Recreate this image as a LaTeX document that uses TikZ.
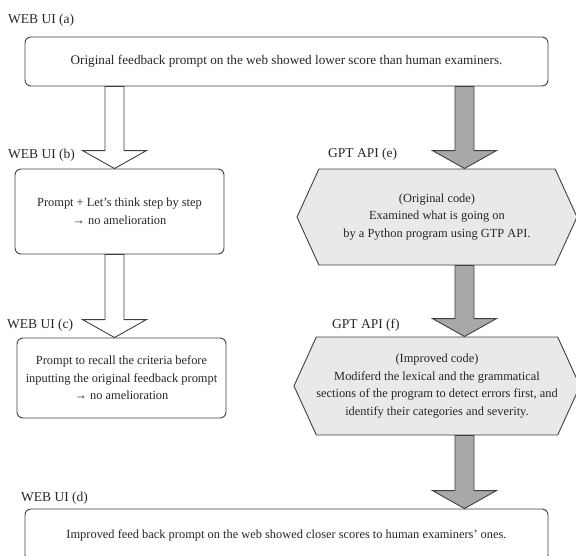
\documentclass[tikz,border=0pt]{standalone}
\usepackage{fontspec}
\setmainfont{Liberation Serif}
\usepackage{tikz}
\usetikzlibrary{positioning,calc,shapes.symbols}

\definecolor{edgegray}{HTML}{404040}
\definecolor{hexgray}{HTML}{E9E9E9}
\definecolor{arrowgray}{HTML}{A8A8A8}
\newcommand{\boxfont}{\fontsize{12.4}{17.5}\selectfont}
\newcommand{\tagfont}{\fontsize{13.5}{16}\selectfont}

% block arrow: [fill] {(start)} {(tip)}
\newcommand{\blockarrow}[3][white]{%
  \draw[draw=edgegray, line width=0.9pt, fill=#1] let \p1=#2, \p2=#3 in
    ({\x1-9.5pt},\y1) -- ({\x1+9.5pt},\y1) -- ({\x1+9.5pt},{\y2+18pt})
    -- ({\x1+32pt},{\y2+18pt}) -- (\x1,\y2) -- ({\x1-32pt},{\y2+18pt})
    -- ({\x1-9.5pt},{\y2+18pt}) -- cycle;}

\begin{document}
\begin{tikzpicture}[x=1pt, y=-1pt, text=black!85,
  stepbox/.style={draw=edgegray, line width=0.9pt, rounded corners=6pt, fill=white, inner sep=0pt, align=center, font=\boxfont},
  codebox/.style={signal, signal to=east and west, signal pointer angle=131, draw=edgegray, fill=hexgray, line width=0.9pt, minimum width=280pt, inner sep=0pt, align=center, font=\boxfont},
  tag/.style={anchor=west, inner sep=0pt, font=\tagfont}]
\useasboundingbox (0,0) rectangle (576,555);

\coordinate (colL) at (114.5,0);
\coordinate (colR) at (464.5,0);

\node[tag] (tagA) at (8,20) {WEB UI (a)};
\node[stepbox, minimum width=523pt, minimum height=49pt, font=\fontsize{13.2}{16}\selectfont] (boxA) at (286.5,61.5) {Original feedback prompt on the web showed lower score than human examiners.};

\node[tag] (tagB) at (8,155) {WEB UI (b)};
\node[stepbox, minimum width=209pt, minimum height=85pt] (boxB) at (119.5,211.5) {Prompt + Let's think step by step\\→ no amelioration};

\node[tag] (tagC) at (7,325) {WEB UI (c)};
\node[stepbox, minimum width=209pt, minimum height=80pt] (boxC) at (121.5,378) {Prompt to recall the criteria before\\inputting the original feedback prompt\\→ no amelioration};

\node[tag] (tagE) at (328,154) {GPT API (e)};
\node[codebox, minimum height=96pt] (hexE) at (437,217) {(Original code)\\Examined what is going on\\by a Python program using GTP API.};

\node[tag] (tagF) at (332,325) {GPT API (f)};
\node[codebox, minimum height=98pt] (hexF) at (437,386) {(Improved code)\\Modiferd the lexical and the grammatical\\sections of the program to detect errors first, and\\identify their categories and severity.};

\node[tag] (tagD) at (21,498) {WEB UI (d)};
\node[stepbox, minimum width=523pt, minimum height=52pt] (boxD) at (286.5,535) {Improved feed back prompt on the web showed closer scores to human examiners' ones.};

% web ui path
\blockarrow{(boxA.south -| colL)}{(boxB.north -| colL)}
\blockarrow{(boxB.south -| colL)}{(boxC.north -| colL)}

% gpt api path
\blockarrow[arrowgray]{(boxA.south -| colR)}{(hexE.north -| colR)}
\blockarrow[arrowgray]{(hexE.south -| colR)}{(hexF.north -| colR)}
\blockarrow[arrowgray]{(hexF.south -| colR)}{(boxD.north -| colR)}

\end{tikzpicture}
\end{document}
